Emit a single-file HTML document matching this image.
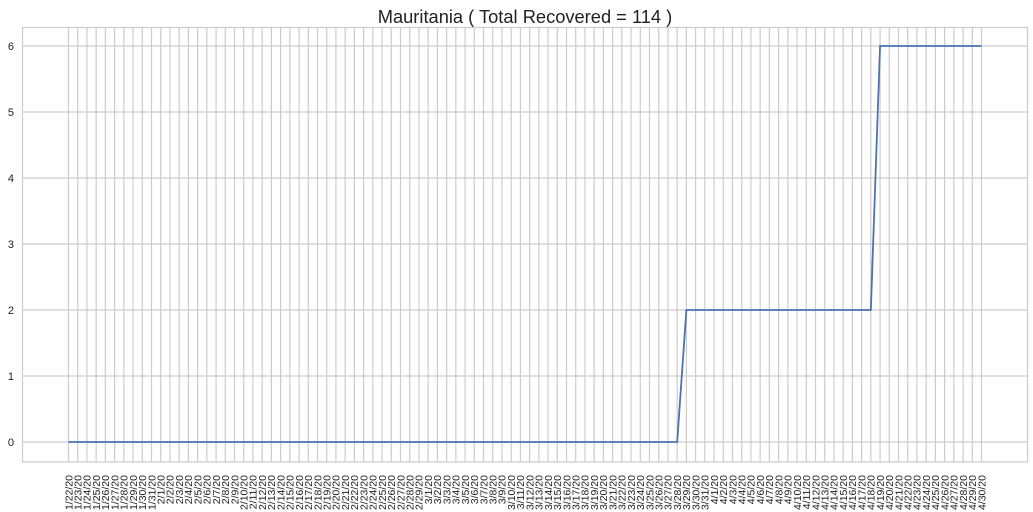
<!DOCTYPE html>
<html><head><meta charset="utf-8"><style>
body{margin:0;background:#fff;font-family:"Liberation Sans",sans-serif}
svg{display:block}
</style></head><body>
<svg id="chart" width="1033" height="512">
<rect x="0" y="0" width="1033" height="512" fill="#fff"/>
<text x="525" y="23" text-anchor="middle" font-size="18.3" fill="#222">Mauritania ( Total Recovered = 114 )</text>
<g id="grid"></g><g id="xt"></g><g id="yt"></g><g id="series"></g>
<rect x="22.5" y="27.5" width="1005" height="434.5" fill="none" stroke="#ccc" stroke-width="1.2"/>
</svg>
<script>
const startDate = [2020, 0, 22];
const dayCount = 100;
const yTicks = [0,1,2,3,4,5,6];
const values = [];
const zeroDays = 67, twoDays = 21, sixDays = 12;
for(let i=0;i<zeroDays;i++) values.push(0);
for(let i=0;i<twoDays;i++) values.push(2);
for(let i=0;i<sixDays;i++) values.push(6);
const labels = [];
for(let i=0;i<dayCount;i++){const d=new Date(startDate[0],startDate[1],startDate[2]+i);labels.push((d.getMonth()+1)+'/'+d.getDate()+'/20');}
const NS='http://www.w3.org/2000/svg';
const X0=68.5,X1=981.5,Y0=442,YU=66;
const x=i=>X0+(X1-X0)*i/(labels.length-1);
const y=v=>Y0-v*YU;
function mk(t,a,p){const e=document.createElementNS(NS,t);for(const k in a)e.setAttribute(k,a[k]);p.appendChild(e);return e;}
const grid=document.getElementById('grid'),xt=document.getElementById('xt'),yt=document.getElementById('yt'),ser=document.getElementById('series');
labels.forEach((l,i)=>{
 const g=mk('line',{x1:x(i),x2:x(i),y1:28,y2:462,stroke:'#ccc','stroke-width':1.2},grid);
 
 
 const t=mk('text',{x:0,y:0,'font-size':10.5,fill:'#222','text-anchor':'end',transform:`translate(${x(i)+3.8},475) rotate(-90)`},xt);
 t.textContent=l;
 
 
});
yTicks.forEach(v=>{
 const g=mk('line',{x1:22,x2:1028,y1:y(v),y2:y(v),stroke:'#ccc','stroke-width':1.2},grid);
 
 
 const t=mk('text',{x:14,y:y(v)+4,'font-size':11,fill:'#222','text-anchor':'end'},yt);
 t.textContent=v;
 
 
});
const pl=mk('polyline',{points:values.map((v,i)=>x(i)+','+y(v)).join(' '),fill:'none',stroke:'#4c72b0','stroke-width':1.8},ser);


</script>
</body></html>
